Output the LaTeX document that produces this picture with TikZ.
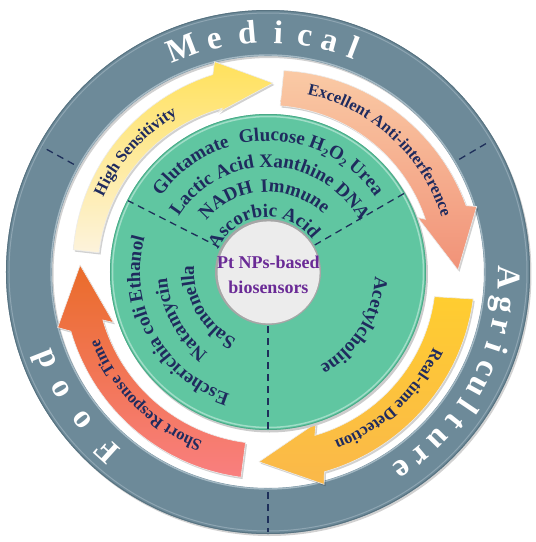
\documentclass[tikz,border=0pt]{standalone}
\usepackage{fontspec}
\setmainfont{Liberation Serif}
\usetikzlibrary{decorations.text,calc}
\definecolor{navy}{HTML}{1F2B5E}
\definecolor{ringc}{HTML}{6D8A99}
\definecolor{ringlight}{HTML}{A3B8C3}
\definecolor{ringdark}{HTML}{587381}
\definecolor{greenc}{HTML}{60C6A1}
\definecolor{greendark}{HTML}{4BA987}
\definecolor{greyc}{HTML}{ECECEC}
\definecolor{purp}{HTML}{6A2A96}
\definecolor{dashc}{HTML}{1E2F5A}
\definecolor{aonet}{HTML}{FDF3DC}
\definecolor{aoneh}{HTML}{FFE15C}
\definecolor{atwot}{HTML}{FACAA5}
\definecolor{atwoh}{HTML}{F19278}
\definecolor{athreet}{HTML}{FFCD30}
\definecolor{athreeh}{HTML}{FAB84A}
\definecolor{afourt}{HTML}{F97F7F}
\definecolor{afourh}{HTML}{EA6C2A}
\newcommand\gfont{\fontsize{19}{19}\selectfont\bfseries\color{navy}}
\newcommand\afont{\fontsize{16.5}{16.5}\selectfont\bfseries\color{navy}}
\newcommand\subtwo{\raisebox{-3pt}{\fontsize{12}{12}\selectfont 2}}
\newcommand\arcword[4]{%
  \path[decorate,decoration={text along path,text align=center,text={|#3|#4}}]
    ({#2+85}:#1pt) arc[start angle={#2+85}, end angle={#2-85}, radius=#1pt];}
\tikzset{
  ringletter/.style={font=\fontsize{33}{33}\selectfont\bfseries, text=white, inner sep=0pt, anchor=base},
  dashline/.style={draw=dashc, line width=1.3pt, dash pattern=on 7pt off 5pt},
  arrowshadow/.style={preaction={fill=black, opacity=0.18, transform canvas={xshift=1.5pt, yshift=-1.8pt}}},
  arrowbody/.style={draw=white!85!gray, line width=0.6pt, arrowshadow}
}
\begin{document}
\begin{tikzpicture}
\useasboundingbox (-268pt,-270pt) rectangle (268pt,272pt);
% outer ring with soft shadow
\fill[black!18, even odd rule] (1.5pt,-2pt) circle (262pt) (1.5pt,-2pt) circle (216pt);
\fill[ringc, even odd rule] (0,0) circle (262pt) (0,0) circle (216pt);
\draw[ringlight, line width=1.4pt] (0,0) circle (217pt);
\draw[ringdark, line width=1pt] (0,0) circle (261.5pt);
\draw[ringlight!60!ringc, line width=1pt] (0,0) circle (259pt);
% ring dashed separators
\draw[dashline] (151:222pt) -- (151:258pt);
\draw[dashline] (30.5:222pt) -- (30.5:258pt);
\draw[dashline] (270:220pt) -- (270:260pt);
% ring words
\foreach \a/\l [count=\i] in {111/M,103/e,95/d,87.5/i,81/c,75/a,69/l}{
  \node[ringletter, rotate=\a-90] (med\i) at (\a:229pt) {\l};
}
\foreach \a/\l [count=\i] in {-1.4/A,-7.8/g,-13.3/r,-18.4/i,-24/c,-28.7/u,-34/l,-38.6/t,-44.5/u,-50.4/r,-55.6/e}{
  \node[ringletter, rotate=\a-90] (agr\i) at (\a:230pt) {\l};
}
\foreach \a/\l [count=\i] in {228/F,218.5/o,209.5/o,201.5/d}{
  \node[ringletter, rotate=\a-90] (food\i) at (\a:230pt) {\l};
}
% arrow 1 : High Sensitivity
\coordinate (aB1) at (105.6:192pt);
\coordinate (aT1) at (88.5:189pt);
\coordinate (aO1) at ($(aB1)!25.5pt!90:(aT1)$);
\coordinate (aI1) at ($(aB1)!25.5pt!-90:(aT1)$);
\shade[arrowbody, bottom color=aonet, top color=aoneh]
  plot[domain=173.5:105.6, samples=30, variable=\q] (\q:{196pt+9pt*(173.5-\q)/67.9})
  -- (aO1) -- (aT1) -- (aI1) -- (105.6:170pt) arc[start angle=105.6, end angle=173.5, radius=170pt] -- cycle;
% arrow 2 : Excellent Anti-interference
\coordinate (aB2) at (18.5:189pt);
\coordinate (aT2) at (0.6:190pt);
\coordinate (aO2) at ($(aB2)!30pt!90:(aT2)$);
\coordinate (aI2) at ($(aB2)!30pt!-90:(aT2)$);
\shade[arrowbody, top color=atwot, bottom color=atwoh]
  plot[domain=85.5:18.5, samples=30, variable=\q] (\q:{202pt+7pt*(85.5-\q)/67})
  -- (aO2) -- (aT2) -- (aI2) -- (18.5:166pt) arc[start angle=18.5, end angle=85.5, radius=167pt] -- cycle;
% arrow 3 : Real-time Detection
\coordinate (aB3) at (-74:189pt);
\coordinate (aT3) at (-92.7:190pt);
\coordinate (aO3) at ($(aB3)!31pt!90:(aT3)$);
\coordinate (aI3) at ($(aB3)!31pt!-90:(aT3)$);
\shade[arrowbody, top color=athreet, bottom color=athreeh]
  (-7.5:207pt) arc[start angle=-7.5, end angle=-74, radius=208pt]
  -- (aO3) -- (aT3) -- (aI3) -- (-74:170pt) arc[start angle=-74, end angle=-7.5, radius=167pt] -- cycle;
% arrow 4 : Short Response Time
\coordinate (aB4) at (-163.8:190pt);
\coordinate (aT4) at (-182.1:188pt);
\coordinate (aO4) at ($(aB4)!28pt!90:(aT4)$);
\coordinate (aI4) at ($(aB4)!28pt!-90:(aT4)$);
\shade[arrowbody, bottom color=afourt, top color=afourh]
  (-97.5:207pt) arc[start angle=-97.5, end angle=-163.8, radius=205pt]
  -- (aO4) -- (aT4) -- (aI4) -- (-163.8:172pt) arc[start angle=-163.8, end angle=-97.5, radius=172pt] -- cycle;
% arrow labels
\arcword{181}{137.8}{\afont}{High Sensitivity}
\arcword{182}{47.5}{\afont}{Excellent Anti-interference}
\arcword{182}{-46.6}{\afont}{Real-time Detection}
\arcword{182}{225.3}{\afont}{Short Response Time}
% green disc
\fill[black!20] (1.5pt,-2pt) circle (158.5pt);
\fill[greenc] (0,0) circle (158pt);
\draw[greendark, line width=0.8pt] (0,0) circle (157.6pt);
\draw[white!40!greenc, line width=1.5pt] (0,0) circle (155.5pt);
% centre
\fill[black!35] (0,0) circle (53pt);
\fill[greyc] (0.6pt,-0.4pt) circle (51pt);
% inner dashed separators
\draw[dashline] (153:55pt) -- (153:157pt);
\draw[dashline] (30:54pt) -- (30:157pt);
\draw[dashline] (270:54pt) -- (270:157pt);
% green texts
\arcword{131}{125.8}{\gfont}{Glutamate}
\arcword{131}{88.3}{\gfont}{Glucose}
\arcword{131}{63.2}{\gfont}{H{\subtwo}O{\subtwo}}
\arcword{131}{43.8}{\gfont}{Urea}
\arcword{105}{88.5}{\gfont}{Lactic Acid Xanthine DNA}
\arcword{80}{120.3}{\gfont}{NADH}
\arcword{80}{70.5}{\gfont}{Immune}
\arcword{55}{96}{\gfont}{Ascorbic Acid}
\arcword{128}{208.5}{\gfont}{Escherichia coli Ethanol}
\arcword{101}{208.5}{\gfont}{Natamycin}
\arcword{74}{210}{\gfont}{Salmonella}
\arcword{107}{-31.6}{\gfont}{Acetylcholine}
% centre text
\node[anchor=base, inner sep=0pt, text=purp, font=\fontsize{18}{18}\selectfont\bfseries] (ctop) at (0.5pt,4pt) {Pt NPs-based};
\node[anchor=base, inner sep=0pt, text=purp, font=\fontsize{18}{18}\selectfont\bfseries] (cbot) at (0.5pt,-21pt) {biosensors};
\end{tikzpicture}
\end{document}
